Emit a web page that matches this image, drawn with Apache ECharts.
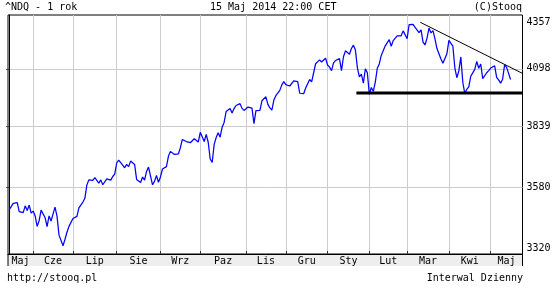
<!DOCTYPE html>
<html><head><meta charset="utf-8">
<script src="https://cdn.jsdelivr.net/npm/echarts@6/dist/echarts.min.js"></script>
<style>html,body{margin:0;padding:0;background:#fff}#c{width:559px;height:293px}</style>
</head><body><div id="c"></div>
<script>
// Month labels and number of trading days shown in each month segment
const monthNames = ['Maj','Cze','Lip','Sie','Wrz','Paz','Lis','Gru','Sty','Lut','Mar','Kwi','Maj'];
const monthDays = [12,20,22,22,20,23,20,21,21,19,21,21,11];
// Daily values (axis units)
const closeValues = [
  3492,3486,3517,3515,3520,3484,3480,3480,3507,3488,3510,3478,
  3486,3467,3426,3448,3490,3493,3460,3425,3467,3447,3475,3502,3465,3392,3385,3351,3376,3403,3426,3428,
  3457,3456,3465,3499,3505,3522,3537,3591,3612,3618,3610,3621,3622,3599,3612,3592,3592,3616,3624,3611,3626,3636,
  3682,3694,3697,3673,3662,3676,3667,3690,3690,3676,3614,3613,3601,3624,3611,3647,3665,3664,3592,3606,3630,3602,
  3624,3657,3665,3667,3710,3731,3728,3718,3725,3720,3746,3782,3787,3773,3765,3768,3762,3785,3780,3771,
  3813,3811,3773,3804,3770,3699,3684,3761,3790,3811,3792,3835,3856,3904,3909,3917,3897,3917,3931,3928,3939,3918,3909,
  3911,3924,3928,3919,3851,3908,3908,3909,3952,3957,3970,3936,3920,3910,3955,3975,3978,3999,4024,4039,
  4025,4018,4019,4014,4042,4048,4039,3986,3982,3984,4010,4005,4049,4038,4080,4122,4128,4140,4130,4127,4148,
  4116,4106,4090,4126,4137,4130,4146,4090,4155,4183,4187,4167,4194,4210,4187,4103,4061,4074,4032,4098,4080,
  3981,4012,3994,4037,4101,4121,4161,4170,4207,4210,4237,4205,4232,4228,4255,4250,4255,4279,4270,
  4241,4310,4316,4311,4296,4294,4270,4284,4225,4211,4244,4293,4269,4280,4240,4194,4201,4144,4124,4128,4169,
  4233,4240,4205,4102,4057,4089,4154,4035,3984,4004,4015,4064,4072,4096,4133,4101,4121,4053,4052,4080,4090,
  4102,4098,4112,4059,4047,4032,4050,4117,4105,4077,4049
];
// Y axis tick labels
const yTickValues = [3320, 3580, 3839, 4098, 4357];
// Drawn trend lines (x in trading-day index, y in axis units)
const supportX = [174.5, 258];
const supportY = [3987, 3987];
const resistX = [206.6, 258];
const resistY = [4321, 4077];

const X_MIN = -0.65, X_MAX = 258;
const starts = []; let acc = 0;
monthDays.forEach(d => { starts.push(acc); acc += d; });
const tickPos = starts.slice(1);
const labelPos = starts.map((s, k) => {
  const lo = k === 0 ? X_MIN : s;
  const hi = k === starts.length - 1 ? X_MAX : starts[k + 1];
  return (lo + hi) / 2;
});
const lnTicks = yTickValues.map(v => Math.log(v));
const lnMin = lnTicks[0], lnMax = lnTicks[lnTicks.length - 1];
const FONT = 'DejaVu Sans Mono';
const txt = {fontFamily: FONT, fontSize: 10, fontWeight: 'normal', color: '#000', lineHeight: 12};

const lineData = closeValues.map((v, i) => [i, Math.log(v)]);
const supportData = supportX.map((x, i) => [x, Math.log(supportY[i])]);
const resistData = resistX.map((x, i) => [x, Math.log(resistY[i])]);

const option = {
  animation: false,
  backgroundColor: '#fff',
  title: [
    {text: '^NDQ - 1 rok', left: 5, top: 1, padding: 0, textStyle: txt},
    {text: '15 Maj 2014 22:00 CET', left: 210, top: 1, padding: 0, textStyle: txt},
    {text: '(C)Stooq', right: 37, top: 1, padding: 0, textStyle: txt},
    {text: 'http://stooq.pl', left: 7, top: 272, padding: 0, textStyle: txt},
    {text: 'Interwal Dzienny', right: 36, top: 272, padding: 0, textStyle: txt}
  ],
  grid: {left: 8, top: 15, right: 36.5, bottom: 39, show: true, borderColor: '#000', borderWidth: 1, backgroundColor: '#fff'},
  graphic: [
    {type: 'rect', z: -1, shape: {x: 8, y: 254.5, width: 514.5, height: 11.5}, style: {fill: '#eeeeee'}},
    {type: 'line', z: 1, shape: {x1: 8, y1: 254, x2: 8, y2: 266}, style: {stroke: '#000', lineWidth: 1}},
    {type: 'line', z: 1, shape: {x1: 522.5, y1: 254, x2: 522.5, y2: 266}, style: {stroke: '#000', lineWidth: 1}}
  ],
  xAxis: {
    type: 'value', min: X_MIN, max: X_MAX,
    axisLine: {show: true, lineStyle: {color: '#000', width: 1}},
    axisTick: {show: true, inside: true, length: 3, customValues: tickPos, lineStyle: {color: '#333'}},
    splitLine: {show: true, lineStyle: {color: '#cccccc', width: 1}},
    axisLabel: {
      customValues: labelPos, margin: 2, fontFamily: FONT, fontSize: 10, color: '#000',
      formatter: v => {
        let best = 0, bd = Infinity;
        labelPos.forEach((p, k) => { const d = Math.abs(p - v); if (d < bd) { bd = d; best = k; } });
        return monthNames[best];
      }
    }
  },
  yAxis: {
    type: 'value', position: 'right', min: lnMin, max: lnMax, scale: true,
    axisLine: {show: true, lineStyle: {color: '#000', width: 1}},
    axisTick: {show: true, inside: true, length: 3, customValues: lnTicks.slice(1, -1), lineStyle: {color: '#333'}},
    splitLine: {show: true, lineStyle: {color: '#cccccc', width: 1}},
    axisLabel: {
      customValues: lnTicks, margin: 4, fontFamily: FONT, fontSize: 10, color: '#000',
      formatter: v => {
        const n = Math.round(Math.exp(v));
        if (n === yTickValues[yTickValues.length - 1]) return '{t|' + n + '}';
        if (n === yTickValues[0]) return '{b|' + n + '}';
        return String(n);
      },
      rich: {
        t: {padding: [15, 0, 0, 0], fontFamily: FONT, fontSize: 10, color: '#000'},
        b: {padding: [0, 0, 12, 0], fontFamily: FONT, fontSize: 10, color: '#000'}
      }
    }
  },
  series: [
    {type: 'line', data: lineData, showSymbol: false, symbol: 'none', lineStyle: {color: '#0000ff', width: 1.25}, z: 3},
    {type: 'line', data: supportData, showSymbol: false, symbol: 'none', lineStyle: {color: '#000', width: 3}, z: 4},
    {type: 'line', data: resistData, showSymbol: false, symbol: 'none', lineStyle: {color: '#000', width: 1}, z: 4}
  ]
};
const chart = echarts.init(document.getElementById('c'), null, {renderer: 'canvas'});
chart.setOption(option);
</script>
</body></html>
